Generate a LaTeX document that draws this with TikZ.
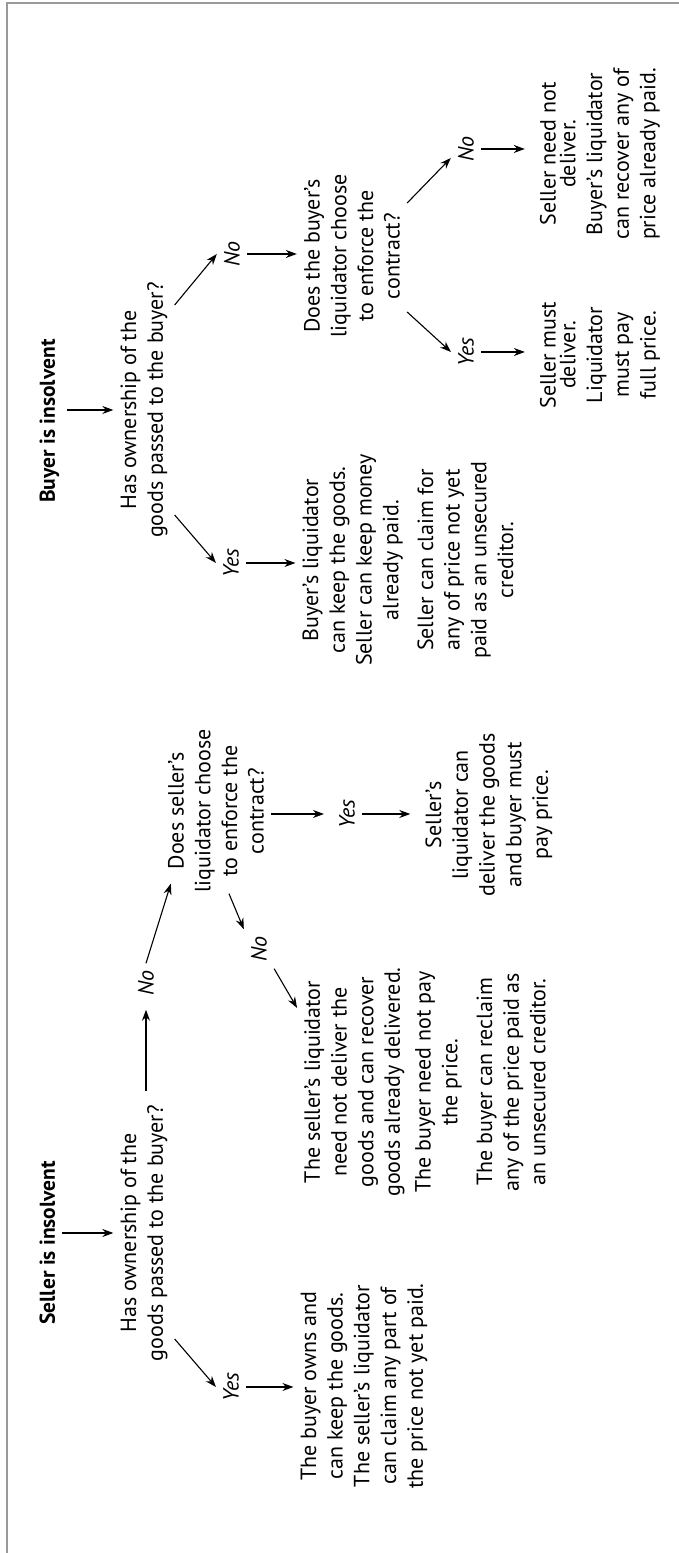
\documentclass[tikz,border=0pt]{standalone}
\usepackage{fontspec}
\setmainfont{PT Sans}
\usepackage{tikz}
\usetikzlibrary{arrows.meta, calc}
\definecolor{framegray}{HTML}{9A9A9A}

\tikzset{
  txt/.style={inner sep=7pt, align=center, font=\fontsize{22pt}{26.7pt}\selectfont},
  head/.style={txt, font=\fontsize{21.5pt}{26.7pt}\selectfont\bfseries},
  choice/.style={txt, font=\fontsize{22pt}{26.7pt}\selectfont\itshape},
  arr/.style={-{Stealth[length=11pt, width=8pt]}, line width=1.1pt},
  gap/.style={shorten >=8pt},
}

\begin{document}
\begin{tikzpicture}[rotate=90, transform shape, x=1pt, y=1pt]
  \useasboundingbox (0,0) rectangle (1553,679);
  \draw[framegray, line width=2pt] (0,672) -- (1550,672) -- (1550,0);

  % seller is insolvent
  \node[head, anchor=base west] (head1) at (221,624) {Seller is insolvent};
  \node[txt] (q1) at (320,535) {Has ownership of the\\goods passed to the buyer?};
  \node[choice] (yes1) at (166,448) {Yes};
  \node[txt] (ans1) at (167,315) {The buyer owns and\\can keep the goods.\\The seller’s liquidator\\can claim any part of\\the price not yet paid.};
  \node[choice] (no1) at (570,533) {No};
  \node[txt] (q2) at (742,463) {Does seller’s\\liquidator choose\\to enforce the\\contract?};
  \node[choice] (yes2) at (739,332) {Yes};
  \node[txt] (ans2) at (738,190) {Seller’s\\liquidator can\\deliver the goods\\and buyer must\\pay price.};
  \node[choice] (no2) at (604,420) {No};
  \node[txt] (ans3) at (471,254) {The seller’s liquidator\\need not deliver the\\goods and can recover\\goods already delivered.\\[4pt]The buyer need not pay\\the price.\\[8pt]The buyer can reclaim\\any of the price paid as\\an unsecured creditor.};

  \draw[arr] (head1.south -| q1.north) -- (q1.north);
  \draw[arr] ([xshift=-106pt]q1.south) -- (yes1.north);
  \draw[arr] (yes1.south) -- (yes1.south |- ans1.north);
  \draw[arr, shorten <=7pt, shorten >=7pt] (q1.east |- no1.west) -- (no1.west);
  \draw[arr] (no1.east) -- ([shift={(16pt,-10pt)}]q2.north west);
  \draw[arr, gap] (q2.south -| yes2.north) -- (yes2.north);
  \draw[arr, gap] (yes2.south) -- (yes2.south |- ans2.north);
  \draw[arr] ([shift={(6pt,-13pt)}]q2.west) -- (no2.north east);
  \draw[arr] (no2.south west) -- ([xshift=74pt]ans3.north);

  % buyer is insolvent
  \node[head, anchor=base west] (head2) at (1043,624) {Buyer is insolvent};
  \node[txt] (q3) at (1143,535) {Has ownership of the\\goods passed to the buyer?};
  \node[choice] (yes3) at (990,448) {Yes};
  \node[txt] (ans4) at (993,271) {Buyer’s liquidator\\can keep the goods.\\Seller can keep money\\already paid.\\[8pt]Seller can claim for\\any of price not yet\\paid as an unsecured\\creditor.};
  \node[choice] (no3) at (1299,447) {No};
  \node[txt] (q4) at (1297,327) {Does the buyer’s\\liquidator choose\\to enforce the\\contract?};
  \node[choice] (yes4) at (1201,213) {Yes};
  \node[txt] (ans6) at (1198,79) {Seller must\\[-7pt]deliver.\\Liquidator\\must pay\\full price.};
  \node[choice] (no4) at (1404,213) {No};
  \node[txt] (ans5) at (1399,79) {Seller need not\\[-7pt]deliver.\\Buyer’s liquidator\\can recover any of\\price already paid.};

  \draw[arr] (head2.south -| q3.north) -- (q3.north);
  \draw[arr] ([xshift=-105pt]q3.south) -- (yes3.north);
  \draw[arr] (yes3.south) -- (yes3.south |- ans4.north);
  \draw[arr] ([xshift=105pt]q3.south) -- (no3.north);
  \draw[arr] (no3.south) -- (no3.south |- q4.north);
  \draw[arr] ([xshift=-56pt]q4.south) -- (yes4.north);
  \draw[arr, gap] (yes4.south) -- (yes4.south |- ans6.north);
  \draw[arr] ([xshift=53pt]q4.south) -- ([xshift=-9pt]no4.north);
  \draw[arr, gap] (no4.south) -- (no4.south |- ans5.north);
\end{tikzpicture}
\end{document}
